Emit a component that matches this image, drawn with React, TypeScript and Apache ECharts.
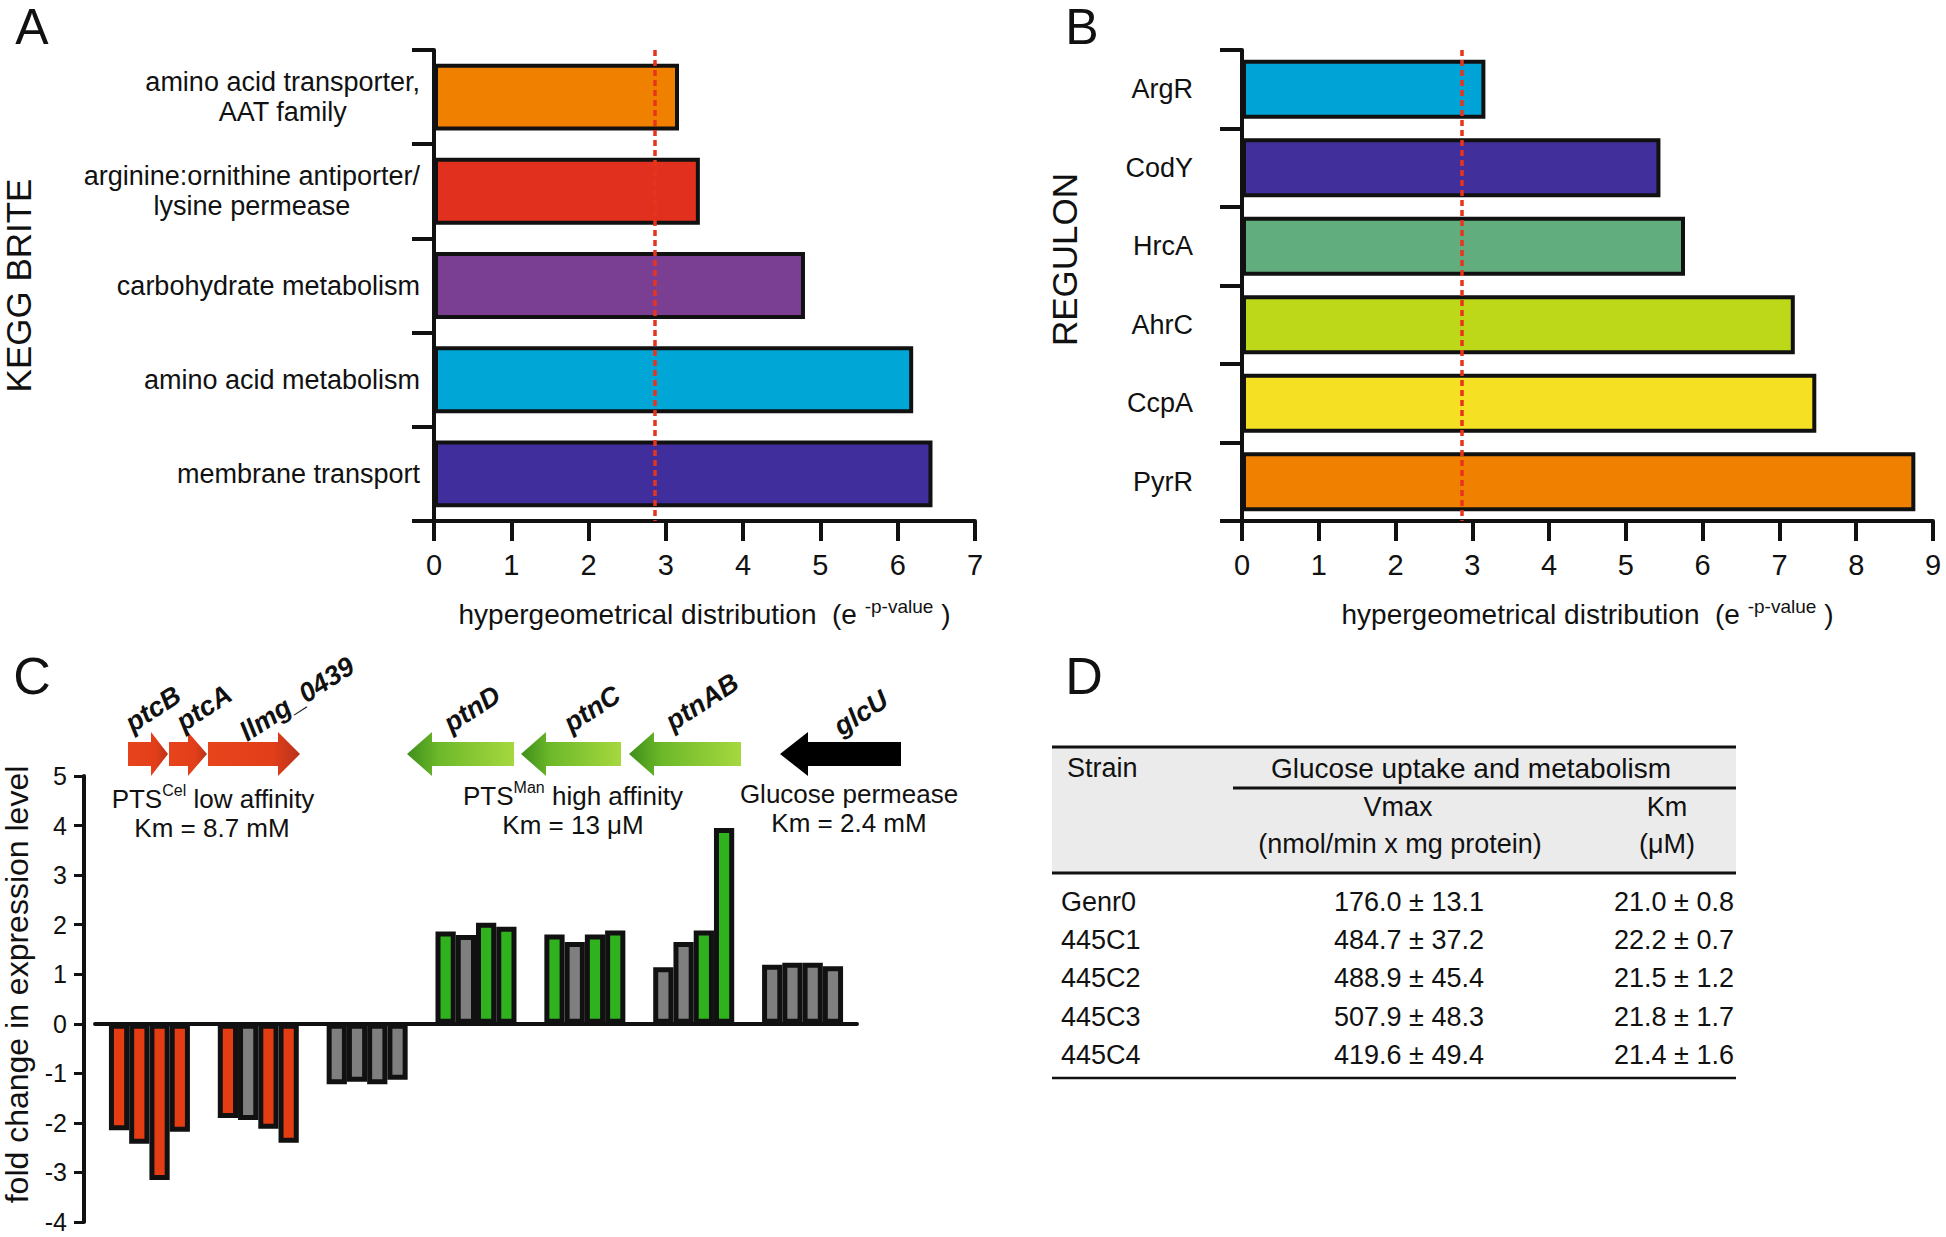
import React, { useEffect, useRef } from "react";
import * as echarts from "echarts";

const FONT = "'Liberation Sans', Arial, Helvetica, sans-serif";
const INK = "#111111";

// ---------- Panel A : KEGG BRITE ----------
const keggCategories = [
  "amino acid transporter,\nAAT family",
  "arginine:ornithine antiporter/\nlysine permease",
  "carbohydrate metabolism",
  "amino acid metabolism",
  "membrane transport",
];
const keggValues = [3.17, 3.44, 4.8, 6.2, 6.45];
const keggColors = ["#F08100", "#E2301F", "#7A3F93", "#00A6D6", "#3F2E9B"];

// ---------- Panel B : REGULON ----------
const regulonCategories = ["ArgR", "CodY", "HrcA", "AhrC", "CcpA", "PyrR"];
const regulonValues = [3.17, 5.45, 5.77, 7.2, 7.48, 8.77];
const regulonColors = ["#00A3D5", "#41309B", "#62AD7E", "#BDD818", "#F5E024", "#F08100"];

const enrichmentThreshold = 2.86;

// ---------- Panel C : fold change ----------
const genes = ["ptcB", "ptcA", "llmg_0439", "ptnD", "ptnC", "ptnAB", "glcU"];
const strainNames = ["445C1", "445C2", "445C3", "445C4"];
const foldC1 = [-2.15, -1.9, -1.22, 1.86, 1.8, 1.14, 1.19];
const foldC2 = [-2.42, -1.94, -1.17, 1.79, 1.65, 1.65, 1.23];
const foldC3 = [-3.15, -2.12, -1.22, 2.04, 1.8, 1.88, 1.23];
const foldC4 = [-2.18, -2.4, -1.13, 1.96, 1.88, 3.95, 1.16];
// 1 = significant (coloured), 0 = not significant (grey)
const sigC1 = [1, 1, 0, 1, 1, 0, 0];
const sigC2 = [1, 0, 0, 0, 0, 0, 0];
const sigC3 = [1, 1, 0, 1, 1, 1, 0];
const sigC4 = [1, 1, 0, 1, 1, 1, 0];
const geneColors = ["#E43D14", "#E43D14", "#E43D14", "#2FB21E", "#2FB21E", "#2FB21E", "#111111"];
const notSigColor = "#7F7F7F";

// ---------- Panel D : table ----------
const strains = ["Genr0", "445C1", "445C2", "445C3", "445C4"];
const vmaxMean = [176.0, 484.7, 488.9, 507.9, 419.6];
const vmaxSd = [13.1, 37.2, 45.4, 48.3, 49.4];
const kmMean = [21.0, 22.2, 21.5, 21.8, 21.4];
const kmSd = [0.8, 0.7, 1.2, 1.7, 1.6];

function supRich(main: number, sup: number) {
  return {
    a: { fontSize: main, fontFamily: FONT, color: INK, lineHeight: main + 3, verticalAlign: "bottom" },
    s: {
      fontSize: sup,
      fontFamily: FONT,
      color: INK,
      lineHeight: sup,
      verticalAlign: "top",
      padding: [0, 0, 17, 0],
    },
  };
}

const hyperName = "{a|hypergeometrical distribution  (e }{s|-p-value}{a| )}";

function centerLines(v: string) {
  return v
    .split("\n")
    .map((l) => `{c|${l}}`)
    .join("\n");
}

function txt(text: string, x: number, y: number, size: number, align = "center", extra: any = {}) {
  const va = extra.verticalAlign || "middle";
  return {
    type: "text",
    x,
    y,
    z: 20,
    style: {
      text,
      font: `${extra.fontStyle || ""} ${extra.fontWeight || ""} ${size}px ${FONT}`.trim(),
      fill: INK,
      textAlign: align,
      textVerticalAlign: va,
      align,
      verticalAlign: va,
    },
    ...(extra.rotation != null ? { rotation: extra.rotation } : {}),
  };
}

function richTxt(text: string, x: number, y: number, size: number) {
  return {
    type: "text",
    x,
    y,
    z: 20,
    style: {
      text,
      rich: supRich(size, 16),
      fill: INK,
      textAlign: "center",
      textVerticalAlign: "middle",
      align: "center",
      verticalAlign: "middle",
    },
  };
}

function arrow(x0: number, x1: number, dir: "right" | "left", cy: number, hl: number, fill: any) {
  const bh = 12;
  const hh = 22;
  const pts =
    dir === "right"
      ? [
          [x0, cy - bh],
          [x1 - hl, cy - bh],
          [x1 - hl, cy - hh],
          [x1, cy],
          [x1 - hl, cy + hh],
          [x1 - hl, cy + bh],
          [x0, cy + bh],
        ]
      : [
          [x1, cy - bh],
          [x0 + hl, cy - bh],
          [x0 + hl, cy - hh],
          [x0, cy],
          [x0 + hl, cy + hh],
          [x0 + hl, cy + bh],
          [x1, cy + bh],
        ];
  return { type: "polygon", z: 15, shape: { points: pts }, style: { fill } };
}

function hline(x1: number, x2: number, y: number, w: number) {
  return { type: "line", z: 18, shape: { x1, y1: y, x2, y2: y }, style: { stroke: INK, lineWidth: w } };
}

function buildOption(): any {
  const redGrad = () =>
    new echarts.graphic.LinearGradient(0, 0, 1, 0, [
      { offset: 0, color: "#E8441C" },
      { offset: 0.7, color: "#E23E1A" },
      { offset: 1, color: "#B8321A" },
    ]);
  const greenGrad = () =>
    new echarts.graphic.LinearGradient(0, 0, 1, 0, [
      { offset: 0, color: "#3E8E1A" },
      { offset: 0.3, color: "#6DB92A" },
      { offset: 1, color: "#A6D83E" },
    ]);

  const cy = 754;
  const rot = (33 * Math.PI) / 180;
  const gene = { fontStyle: "italic", fontWeight: "bold", rotation: rot };
  const graphics: any[] = [
    txt("A", 32, 2, 50, "center", { verticalAlign: "top" }),
    txt("B", 1082, 2, 50, "center", { verticalAlign: "top" }),
    txt("C", 32, 676, 52),
    txt("D", 1084, 676, 52),
    // gene arrows
    arrow(128, 168, "right", cy, 17, redGrad()),
    arrow(169, 207, "right", cy, 19, redGrad()),
    arrow(208, 300, "right", cy, 22, redGrad()),
    arrow(407, 514, "left", cy, 25, greenGrad()),
    arrow(521, 621, "left", cy, 25, greenGrad()),
    arrow(629, 741, "left", cy, 25, greenGrad()),
    arrow(780, 901, "left", cy, 28, "#000000"),
    // gene names
    txt(genes[0], 153, 709, 27, "center", gene),
    txt(genes[1], 204, 708, 27, "center", gene),
    txt(genes[2], 297, 699, 27, "center", gene),
    txt(genes[3], 472, 709, 27, "center", gene),
    txt(genes[4], 592, 709, 27, "center", gene),
    txt(genes[5], 702, 702, 27, "center", gene),
    txt(genes[6], 861, 713, 27, "center", gene),
    // system annotations
    richTxt("{a|PTS}{s|Cel}{a| low affinity}", 213, 797, 26),
    txt("Km = 8.7 mM", 212, 828, 26),
    richTxt("{a|PTS}{s|Man}{a| high affinity}", 573, 794, 26),
    txt("Km = 13 \u03bcM", 573, 825, 26),
    txt("Glucose permease", 849, 794, 26),
    txt("Km = 2.4 mM", 849, 823, 26),
    // table D
    { type: "rect", z: 10, shape: { x: 1052, y: 747, width: 684, height: 126 }, style: { fill: "#EBEBEB" } },
    hline(1052, 1736, 747, 3),
    hline(1233, 1736, 788, 3),
    hline(1052, 1736, 873, 3),
    hline(1052, 1736, 1078, 2.5),
    txt("Strain", 1067, 768, 27, "left"),
    txt("Glucose uptake and metabolism", 1471, 768, 28),
    txt("Vmax", 1398, 807, 27),
    txt("(nmol/min x mg protein)", 1400, 844, 27),
    txt("Km", 1667, 807, 27),
    txt("(\u03bcM)", 1667, 844, 27),
  ];
  const rowY = [902, 940, 978, 1017, 1055];
  strains.forEach((s, i) => {
    graphics.push(txt(s, 1061, rowY[i], 27, "left"));
    graphics.push(txt(`${vmaxMean[i].toFixed(1)} \u00b1 ${vmaxSd[i].toFixed(1)}`, 1409, rowY[i], 27));
    graphics.push(txt(`${kmMean[i].toFixed(1)} \u00b1 ${kmSd[i].toFixed(1)}`, 1674, rowY[i], 27));
  });

  const axisLine = { show: true, lineStyle: { color: INK, width: 4 } };
  const tickStyle = { color: INK, width: 4 };

  const hBarXAxis = (gridIndex: number, max: number) => ({
    gridIndex,
    type: "value",
    min: 0,
    max,
    interval: 1,
    axisLine,
    axisTick: { show: true, length: 20, lineStyle: tickStyle },
    splitLine: { show: false },
    axisLabel: { fontSize: 29, fontFamily: FONT, color: INK, margin: 29 },
    name: hyperName,
    nameLocation: "middle",
    nameGap: 76,
    nameTextStyle: { rich: supRich(28, 19) },
  });

  const thresholdLine = {
    silent: true,
    symbol: ["none", "none"],
    label: { show: false },
    lineStyle: { color: "#E8341C", width: 3.5, type: [6, 4] },
    data: [{ xAxis: enrichmentThreshold }],
  };

  const seriesC = [foldC1, foldC2, foldC3, foldC4].map((vals, s) => {
    const sig = [sigC1, sigC2, sigC3, sigC4][s];
    return {
      type: "bar",
      name: strainNames[s],
      xAxisIndex: 2,
      yAxisIndex: 2,
      barGap: "0%",
      barCategoryGap: "25.6%",
      itemStyle: { borderColor: INK, borderWidth: 5 },
      data: vals.map((v, i) => ({
        value: v,
        itemStyle: { color: sig[i] ? geneColors[i] : notSigColor, borderColor: INK, borderWidth: 5 },
      })),
    };
  });

  return {
    animation: false,
    backgroundColor: "#ffffff",
    textStyle: { fontFamily: FONT },
    grid: [
      { left: 433, top: 50, width: 542, height: 471 },
      { left: 1242, top: 50, width: 691, height: 471 },
      { left: 95, top: 776, width: 762, height: 446 },
    ],
    xAxis: [
      hBarXAxis(0, 7),
      hBarXAxis(1, 9),
      {
        gridIndex: 2,
        type: "category",
        data: genes,
        axisLine,
        axisTick: { show: false },
        axisLabel: { show: false },
      },
    ],
    yAxis: [
      {
        gridIndex: 0,
        type: "category",
        data: keggCategories,
        inverse: true,
        axisLine,
        axisTick: { show: true, length: 22, interval: 0, lineStyle: tickStyle },
        axisLabel: {
          interval: 0,
          margin: 14,
          formatter: centerLines,
          rich: { c: { fontSize: 27, fontFamily: FONT, color: INK, lineHeight: 30, align: "center" } },
        },
        name: "KEGG BRITE",
        nameLocation: "middle",
        nameRotate: 90,
        nameGap: 398,
        nameTextStyle: { fontSize: 35, fontFamily: FONT, color: INK },
      },
      {
        gridIndex: 1,
        type: "category",
        data: regulonCategories,
        inverse: true,
        axisLine,
        axisTick: { show: true, length: 22, interval: 0, lineStyle: tickStyle },
        axisLabel: { interval: 0, margin: 49, fontSize: 27, fontFamily: FONT, color: INK },
        name: "REGULON",
        nameLocation: "middle",
        nameRotate: 90,
        nameGap: 160,
        nameTextStyle: { fontSize: 35, fontFamily: FONT, color: INK, padding: [0, 0, 0, 52] },
      },
      {
        gridIndex: 2,
        type: "value",
        min: -4,
        max: 5,
        interval: 1,
        offset: 11,
        axisLine,
        axisTick: { show: true, length: 10, lineStyle: { color: INK, width: 3 } },
        splitLine: { show: false },
        axisLabel: { fontSize: 25, fontFamily: FONT, color: INK, margin: 17, lineHeight: 20 },
        name: "fold change in expression level",
        nameLocation: "middle",
        nameRotate: 90,
        nameGap: 51,
        nameTextStyle: { fontSize: 32, fontFamily: FONT, color: INK, padding: [0, 0, 0, 29] },
      },
    ],
    series: [
      {
        type: "bar",
        name: "KEGG BRITE",
        xAxisIndex: 0,
        yAxisIndex: 0,
        barCategoryGap: "29%",
        itemStyle: { borderColor: INK, borderWidth: 4 },
        data: keggValues.map((v, i) => ({ value: v, itemStyle: { color: keggColors[i] } })),
        markLine: thresholdLine,
      },
      {
        type: "bar",
        name: "REGULON",
        xAxisIndex: 1,
        yAxisIndex: 1,
        barCategoryGap: "25%",
        itemStyle: { borderColor: INK, borderWidth: 4 },
        data: regulonValues.map((v, i) => ({ value: v, itemStyle: { color: regulonColors[i] } })),
        markLine: thresholdLine,
      },
      ...seriesC,
    ],
    graphic: graphics,
  };
}

export default function App() {
  const ref = useRef<HTMLDivElement>(null);
  useEffect(() => {
    if (!ref.current) return;
    const chart = echarts.init(ref.current, null, { renderer: "svg" });
    chart.setOption(buildOption());
    return () => chart.dispose();
  }, []);
  return (
    <div
      ref={ref}
      style={{ position: "absolute", left: 0, top: 0, width: 1946, height: 1237, background: "#ffffff" }}
    />
  );
}
